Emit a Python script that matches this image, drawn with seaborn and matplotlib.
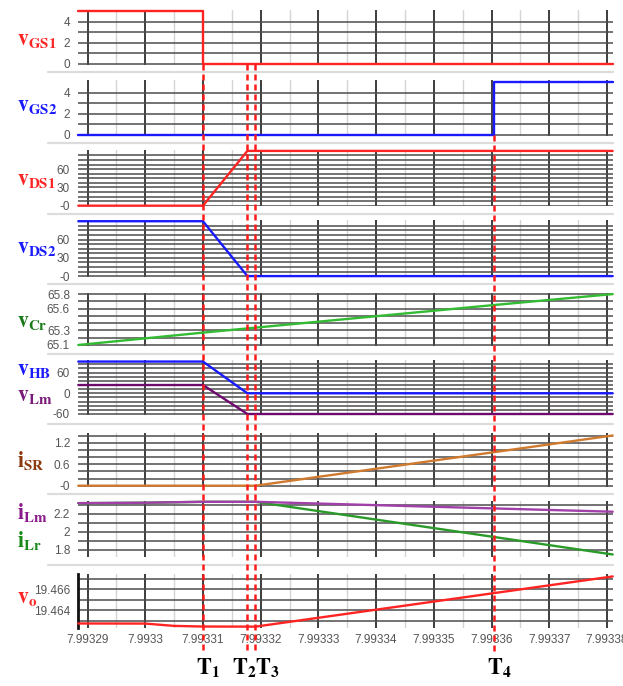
import matplotlib
matplotlib.use("Agg")
import matplotlib.pyplot as plt
import matplotlib.transforms as mtrans
from matplotlib.lines import Line2D
import numpy as np
import seaborn as sns

sns.set_style("white")
plt.rcParams['font.family'] = ['Liberation Sans', 'DejaVu Sans']
plt.rcParams['mathtext.fontset'] = 'stix'

# ---------------- data ----------------
t_start = 7.9932884
t_end = 7.993381
T1 = 7.99331
T2 = 7.9933177
T3 = 7.9933191
T4 = 7.9933605
t_mid = 7.9933
t_pre = 7.993305

x_ticks = [7.99329, 7.99330, 7.99331, 7.99332, 7.99333, 7.99334,
           7.99335, 7.99336, 7.99337, 7.99338]
x_tick_labels = ['7.99329', '7.9933', '7.99331', '7.99332', '7.99333',
                 '7.99334', '7.99335', '7.99336', '7.99337', '7.99338']

vgs1_t = [t_start, T1, T1, t_end]
vgs1_v = [5, 5, 0, 0]
vgs2_t = [t_start, T4, T4, t_end]
vgs2_v = [0, 0, 5, 5]
vds1_t = [t_start, T1, T2, t_end]
vds1_v = [0, 0, 90, 90]
vds2_t = [t_start, T1, T2, t_end]
vds2_v = [90, 90, 0, 0]
vcr_t = [t_start, T1, T4, t_end]
vcr_v = [65.1, 65.27, 65.65, 65.8]
vhb_t = [t_start, T1, T2, t_end]
vhb_v = [92, 92, 0, 0]
vlm_t = [t_start, T1, T2, t_end]
vlm_v = [24, 24, -60, -60]
isr_t = [t_start, T3, t_end]
isr_v = [0, 0, 1.41]
ilm_t = [t_start, t_mid, T1, T3, t_end]
ilm_v = [2.32, 2.325, 2.335, 2.335, 2.225]
ilr_t = [t_start, t_mid, T1, T3, t_end]
ilr_v = [2.32, 2.325, 2.335, 2.335, 1.75]
vo_t = [t_start, t_mid, t_pre, T1, T3, t_end]
vo_v = [19.46273, 19.46272, 19.4625, 19.46244, 19.46243, 19.4672]

# y grid / tick definitions
gs_grid = [0, 1, 2, 3, 4]
gs_labels = ['0', '', '2', '', '4']
ds_grid = [0, 7.5, 15, 22.5, 30, 37.5, 45, 52.5, 60, 67.5, 75, 82.5]
ds_labels = ['-0', '', '', '', '30', '', '', '', '60', '', '', '']
cr_grid = [65.1, 65.2, 65.3, 65.4, 65.5, 65.6, 65.7, 65.8]
cr_labels = ['65.1', '', '65.3', '', '', '65.6', '', '65.8']
hb_grid = [-60, -48, -36, -24, -12, 0, 12, 24, 36, 48, 60, 72, 84]
hb_labels = ['-60', '', '', '', '', '0', '', '', '', '', '60', '', '']
sr_grid = [0, 0.2, 0.4, 0.6, 0.8, 1.0, 1.2, 1.4]
sr_labels = ['-0', '', '', '0.6', '', '', '1.2', '']
lm_grid = [1.8, 1.9, 2.0, 2.1, 2.2, 2.3]
lm_labels = ['1.8', '', '2', '', '2.2', '']
vo_grid = [19.463, 19.464, 19.465, 19.466, 19.467]
vo_labels = ['', '19.464', '', '19.466', '']

RED = '#ff2424'
BLUE = '#1a1aff'

panels = [
    dict(box=(10, 65), ylim=(-0.1, 5.1), grid=gs_grid, lab=gs_labels,
         series=[(vgs1_t, vgs1_v, RED)]),
    dict(box=(80, 136), ylim=(-0.1, 5.2), grid=gs_grid, lab=gs_labels,
         series=[(vgs2_t, vgs2_v, BLUE)]),
    dict(box=(150, 206), ylim=(-0.5, 91.5), grid=ds_grid, lab=ds_labels,
         series=[(vds1_t, vds1_v, RED)]),
    dict(box=(220, 277), ylim=(-1.5, 92), grid=ds_grid, lab=ds_labels,
         series=[(vds2_t, vds2_v, BLUE)]),
    dict(box=(293, 346), ylim=(65.086, 65.815), grid=cr_grid, lab=cr_labels,
         series=[(vcr_t, vcr_v, '#33bb33')]),
    dict(box=(360, 415), ylim=(-62.9, 96.5), grid=hb_grid, lab=hb_labels,
         series=[(vhb_t, vhb_v, BLUE), (vlm_t, vlm_v, '#6e0a6e')]),
    dict(box=(433, 487), ylim=(-0.037, 1.48), grid=sr_grid, lab=sr_labels,
         series=[(isr_t, isr_v, '#d07a30')]),
    dict(box=(501, 557), ylim=(1.722, 2.344), grid=lm_grid, lab=lm_labels,
         series=[(ilr_t, ilr_v, '#2a9a2a'), (ilm_t, ilm_v, '#a040a8')]),
    dict(box=(574, 628), ylim=(19.4623, 19.46743), grid=vo_grid, lab=vo_labels,
         series=[(vo_t, vo_v, RED)]),
]

W, H = 623, 686
fig = plt.figure(figsize=(W / 100, H / 100), dpi=100)
left_px, right_px = 78.3, 612.7
minor_x = [x + 0.5e-5 for x in x_ticks[:-1]]

axes = []
for i, p in enumerate(panels):
    top, bot = p['box']
    ax = fig.add_axes([left_px / W, 1 - bot / H, (right_px - left_px) / W, (bot - top) / H])
    axes.append(ax)
    for (tt, vv, col) in p['series']:
        sns.lineplot(x=tt, y=vv, ax=ax, color=col, lw=1.7, estimator=None,
                     sort=False, clip_on=False, zorder=5)
    ax.set_yticks(p['grid'])
    ax.set_yticklabels(p['lab'])
    ax.set_xticks(x_ticks)
    ax.set_xticks(minor_x, minor=True)
    ax.set_xlim(t_start, t_end)
    ax.set_ylim(*p['ylim'])
    ax.set_axisbelow(True)
    ax.yaxis.grid(True, color='#4d4d4d', lw=1.1)
    ax.xaxis.grid(True, which='major', color='#2e2e2e', lw=1.3)
    ax.xaxis.grid(True, which='minor', color='#d4d4d4', lw=1.0)
    ax.tick_params(axis='y', length=5, width=1.0, color='#4d4d4d', pad=1,
                   labelsize=8.5, labelcolor='#555555')
    ax.tick_params(axis='x', which='both', length=0, labelsize=8.5,
                   labelcolor='#555555', pad=4)
    for s in ax.spines.values():
        s.set_visible(False)
    ax.set_xlabel('')
    ax.set_ylabel('')
    if i < len(panels) - 1:
        ax.set_xticklabels([])
    else:
        ax.set_xticklabels(x_tick_labels)
        ax.spines['left'].set_visible(True)
        ax.spines['left'].set_linewidth(2)
        ax.spines['left'].set_color('#111111')

# separators between panels
for ypx in [72, 143, 214, 284, 354, 424, 494, 565]:
    fig.add_artist(Line2D([48 / W, right_px / W], [1 - ypx / H] * 2,
                          transform=fig.transFigure, color='#dcdcdc', lw=1.6))

# dashed event markers
bax = axes[-1]
blend = mtrans.blended_transform_factory(bax.transData, fig.transFigure)
events = [(T1, 64), (T2, 64), (T3, 64), (T4, 135)]
for tx, ytop in events:
    fig.add_artist(Line2D([tx, tx], [1 - ytop / H, 1 - 652 / H], transform=blend,
                          color='#ff1a1a', lw=1.8, linestyle=(0, (2.4, 1.6)), zorder=10))

event_labels = [(T1, -6.5, r'$\mathbf{T_1}$'), (T2, -15, r'$\mathbf{T_2}$'),
                (T3, 0, r'$\mathbf{T_3}$'), (T4, -7.5, r'$\mathbf{T_4}$')]
for tx, dx, s in event_labels:
    tr = blend + mtrans.ScaledTranslation(dx / 100, 0, fig.dpi_scale_trans)
    fig.text(tx, 1 - 668 / H, s, transform=tr, ha='left', va='center',
             fontsize=16, color='black')

# panel labels
ylabels = [
    (r'$\mathbf{v}_{\mathbf{GS1}}$', 40, RED),
    (r'$\mathbf{v}_{\mathbf{GS2}}$', 105, BLUE),
    (r'$\mathbf{v}_{\mathbf{DS1}}$', 180, RED),
    (r'$\mathbf{v}_{\mathbf{DS2}}$', 248, BLUE),
    (r'$\mathbf{v}_{\mathbf{Cr}}$', 321, '#1a7a1a'),
    (r'$\mathbf{v}_{\mathbf{HB}}$', 370, BLUE),
    (r'$\mathbf{v}_{\mathbf{Lm}}$', 395, '#7a1a7a'),
    (r'$\mathbf{i}_{\mathbf{SR}}$', 461, '#8b3a10'),
    (r'$\mathbf{i}_{\mathbf{Lm}}$', 512, '#8b1a8b'),
    (r'$\mathbf{i}_{\mathbf{Lr}}$', 540, '#1a8a1a'),
    (r'$\mathbf{v}_{\mathbf{o}}$', 597, RED),
]
for s, ypx, col in ylabels:
    fig.text(17 / W, 1 - ypx / H, s, ha='left', va='center', fontsize=15.5, color=col)

fig.savefig('out.png', dpi=100, facecolor='white')
